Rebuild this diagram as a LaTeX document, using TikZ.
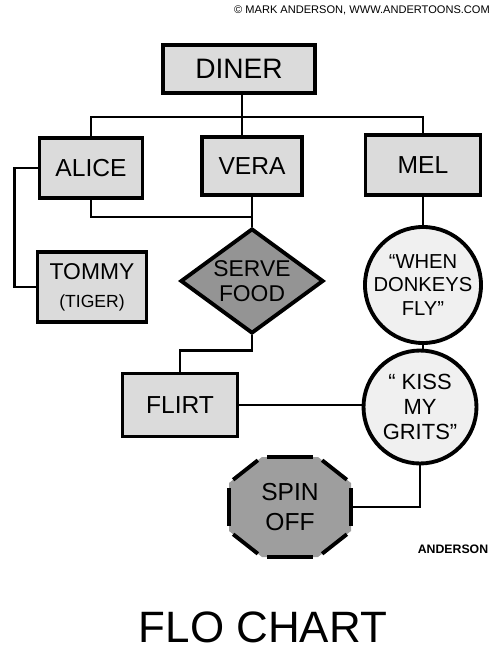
\documentclass[tikz,border=0pt]{standalone}
\usepackage{fontspec}
\setmainfont{Liberation Sans}
\usetikzlibrary{shapes.geometric,calc}

\begin{document}
\begin{tikzpicture}[
    x=0.02cm, y=-0.02cm,
    box/.style={draw,line width=2.2pt,fill=black!14,align=center,inner sep=0pt},
    ring/.style={draw,circle,line width=2.2pt,fill=black!6,align=center,inner sep=0pt,minimum size=2.26cm},
    link/.style={line width=1.6pt},
    label/.style={font=\fontsize{14}{16}\selectfont},
]
    \useasboundingbox (0,0) rectangle (500,659);

    \node[font=\fontsize{6.3}{7}\selectfont,anchor=east] (credit) at (496,10) {\textcopyright{} MARK ANDERSON, WWW.ANDERTOONS.COM};

    \node[box,minimum width=3.04cm,minimum height=0.96cm,font=\fontsize{16}{18}\selectfont] (diner) at (239,69) {DINER};
    \node[box,label,minimum width=2.06cm,minimum height=1.2cm] (alice) at (91,168) {ALICE};
    \node[box,label,minimum width=2.0cm,minimum height=1.16cm] (vera) at (252,166) {VERA};
    \node[box,label,minimum width=2.3cm,minimum height=1.2cm] (mel) at (423,165) {MEL};
    \node[box,minimum width=2.18cm,minimum height=1.4cm,font=\fontsize{13}{15}\selectfont] (tommy) at (92,287) {TOMMY\\[1pt]{\fontsize{10}{12}\selectfont (TIGER)}};
    \node[draw,diamond,line width=2.2pt,fill=black!42,aspect=1.36,minimum width=2.86cm,minimum height=2.1cm,inner sep=0pt,align=center,font=\fontsize{13}{14}\selectfont] (serve) at (252,281) {SERVE\\FOOD};
    \node[box,label,minimum width=2.3cm,minimum height=1.26cm] (flirt) at (180,405) {FLIRT};
    \node[ring,font=\fontsize{11.5}{13.5}\selectfont] (when) at (423,285) {``WHEN\\DONKEYS\\FLY''};
    \node[ring,font=\fontsize{12.5}{14}\selectfont] (kiss) at (420,407) {`` KISS\\MY\\GRITS''};

    % octagon for spin off
    \coordinate (sc) at (290,507);
    \foreach \dx/\dy [count=\i] in {-28/-50,28/-50,61/-24,61/24,28/50,-28/50,-61/24,-61/-24}
        \coordinate (o\i) at ($(sc)+(\dx,\dy)$);
    \fill[black!38] (o1) -- (o2) -- (o3) -- (o4) -- (o5) -- (o6) -- (o7) -- (o8) -- cycle;
    \foreach \i [evaluate=\i as \j using {int(mod(\i,8)+1)}] in {1,...,8}
        \draw[line width=2.2pt,shorten <=3pt,shorten >=3pt] (o\i) -- (o\j);
    \node[minimum width=2.44cm,minimum height=2cm,align=center,font=\fontsize{14}{17}\selectfont] (spin) at (sc) {SPIN\\OFF};

    \coordinate (bus) at (242,117);
    \draw[link] (alice.north) |- (bus) -| (mel.north);
    \draw[link] (diner.south -| bus) -- (vera.north -| bus);
    \draw[link] (alice.west) -- ++(-23,0) |- (tommy.west);
    \draw[link] (alice.south) |- ($(vera.south)+(0,20)$);
    \draw[link] (vera.south) -- (serve.north);
    \draw[link] (serve.south) -- ++(0,15) -| (flirt.north);
    \draw[link] (flirt.east) -- (flirt.east -| kiss.west);
    \draw[link] (mel.south) -- (when.north);
    \draw[link] (when.south) -- (when.south |- kiss.north);
    \draw[link] (kiss.south) |- (spin.east);

    \node[font=\bfseries\fontsize{7}{8}\selectfont] (sign) at (453,549) {ANDERSON};
    \node[font=\fontsize{25}{28}\selectfont] (title) at (263,627) {FLO CHART};
\end{tikzpicture}
\end{document}
